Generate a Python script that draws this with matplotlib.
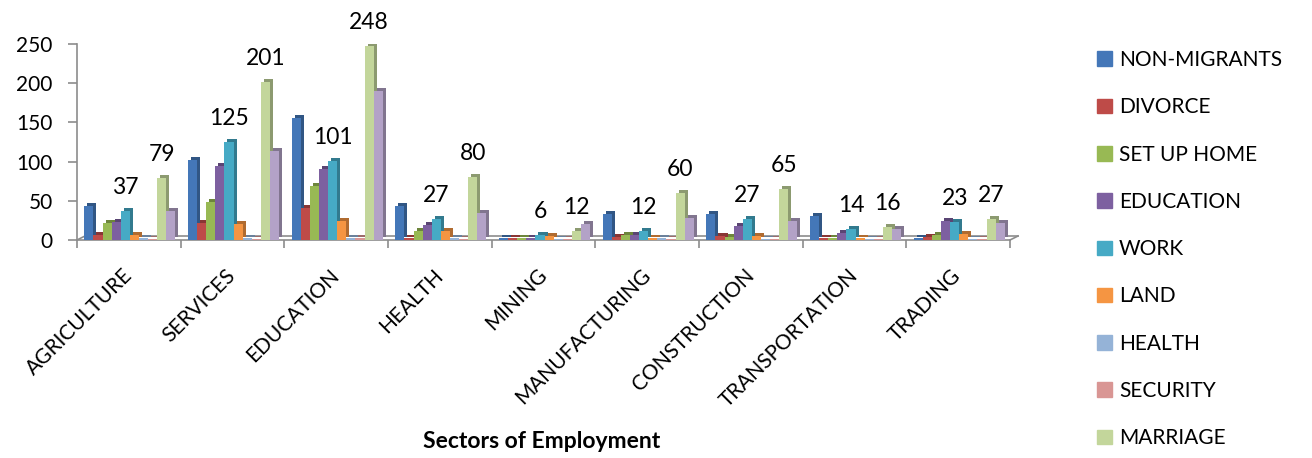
import numpy as np
import matplotlib
matplotlib.use("Agg")
import matplotlib.pyplot as plt
import matplotlib.colors as mcolors
from matplotlib.transforms import ScaledTranslation
from matplotlib.patches import Patch

# ---------------- data ----------------
categories = ["AGRICULTURE", "SERVICES", "EDUCATION", "HEALTH", "MINING",
              "MANUFACTURING", "CONSTRUCTION", "TRANSPORTATION", "TRADING"]

series_names = ["NON-MIGRANTS", "DIVORCE", "SET UP HOME", "EDUCATION", "WORK",
                "LAND", "HEALTH", "SECURITY", "MARRIAGE", "OTHER"]

non_migrants = [44, 102, 155, 44, 3, 33, 33, 31, 3]
divorce      = [6, 22, 41, 3, 2, 4, 5, 3, 4]
set_up_home  = [22, 48, 69, 12, 2, 7, 4, 2, 6]
education    = [23, 95, 90, 19, 2, 6, 18, 9, 24]
work         = [37, 125, 101, 27, 6, 12, 27, 14, 23]
land         = [7, 20, 24, 12, 5, 3, 5, 3, 8]
health       = [2, 2, 3, 2, 1, 2, 1, 1, 1]
security     = [1, 1, 2, 1, 1, 1, 1, 1, 1]
marriage     = [79, 201, 248, 80, 12, 60, 65, 16, 27]
other        = [37, 113, 190, 34, 21, 28, 24, 14, 22]

y_ticks = [0, 50, 100, 150, 200, 250]
labelled_series = ["WORK", "MARRIAGE"]
legend_series = series_names[:9]

# ---------------- style ----------------
colors = ["#4477B8", "#BE4B48", "#98B954", "#7D60A0", "#46AAC5",
          "#F59542", "#95B3D7", "#D99694", "#C3D69B", "#B3A2C7"]
plt.rcParams['font.family'] = ['Lato', 'DejaVu Sans']

values = [non_migrants, divorce, set_up_home, education, work,
          land, health, security, marriage, other]

W, H = 1312, 458
fig = plt.figure(figsize=(W / 100, H / 100), dpi=100)
ax = fig.add_axes([77 / W, 218 / H, (1010 - 77) / W, (414 - 218) / H])
ncat = len(categories)
ax.set_xlim(-0.5, ncat - 0.5)
ax.set_ylim(0, 250)

x = np.arange(ncat)
n = len(values)
bw = 0.088
px = 1 / 100
depth = ScaledTranslation(3 * px, 3 * px, fig.dpi_scale_trans)

def darker(c, f=0.72):
    r, g, b = mcolors.to_rgb(c)
    return (r * f, g * f, b * f)

gray = "#8C8C8C"

# floor (pseudo 3D): back edge and slanted ends
floor_off = ScaledTranslation(8 * px, 4 * px, fig.dpi_scale_trans)
ax.plot([-0.5, ncat - 0.5], [0, 0], color=gray, lw=1.2,
        transform=ax.transData + floor_off, zorder=2, clip_on=False)
inv = ax.transData.inverted()
for xe in [-0.5, ncat - 0.5]:
    p0 = ax.transData.transform((xe, 0))
    p1 = p0 + np.array([8, 4])
    d1 = inv.transform(p1)
    ax.plot([xe, d1[0]], [0, d1[1]], color=gray, lw=1.2, zorder=2, clip_on=False)

for i, (name, vals) in enumerate(zip(series_names, values)):
    xi = x + (i - (n - 1) / 2) * bw + 0.01
    back = ax.bar(xi, vals, bw, color=darker(colors[i]), linewidth=0, zorder=3)
    for p in back.patches:
        p.set_transform(ax.transData + depth)
    ax.bar(xi, vals, bw, color=colors[i], linewidth=0, zorder=3)
    if name in labelled_series:
        for xv, v in zip(xi, vals):
            ax.annotate(str(v), (xv, v), xytext=(0, 13), textcoords='offset pixels',
                        ha='center', va='bottom', fontsize=16.5, color='black',
                        annotation_clip=False, zorder=5)

for s in ['top', 'right']:
    ax.spines[s].set_visible(False)
for s in ['left', 'bottom']:
    ax.spines[s].set_color(gray)
    ax.spines[s].set_linewidth(1.2)

ax.set_yticks(y_ticks)
ax.set_yticklabels([str(t) for t in y_ticks], fontsize=15)
ax.tick_params(axis='y', length=6.5, color=gray, width=1.2, pad=11)

ax.set_xticks(x)
ax.set_xticklabels(categories, fontsize=15, rotation=45, ha='right',
                   rotation_mode='anchor')
ax.set_xticks(np.arange(ncat + 1) - 0.5, minor=True)
ax.tick_params(axis='x', which='major', length=0, pad=18)
ax.tick_params(axis='x', which='minor', length=5.5, color=gray, width=1.2)
shift = ScaledTranslation(-7 * px, 0, fig.dpi_scale_trans)
for lab in ax.get_xticklabels():
    lab.set_transform(lab.get_transform() + shift)

fig.text(542 / W, 1 - 441 / H, "Sectors of Employment", fontsize=16.5,
         fontweight='bold', ha='center', va='center')

handles = [Patch(color=colors[i], label=series_names[i]) for i in range(len(legend_series))]
fig.legend(handles=handles, loc='upper left', bbox_to_anchor=(1097 / W, 1 - 50 / H),
           frameon=False, fontsize=15, handlelength=0.7, handleheight=0.7,
           handletextpad=0.35, labelspacing=1.31, borderpad=0, borderaxespad=0)

fig.savefig("out.png", dpi=100)
